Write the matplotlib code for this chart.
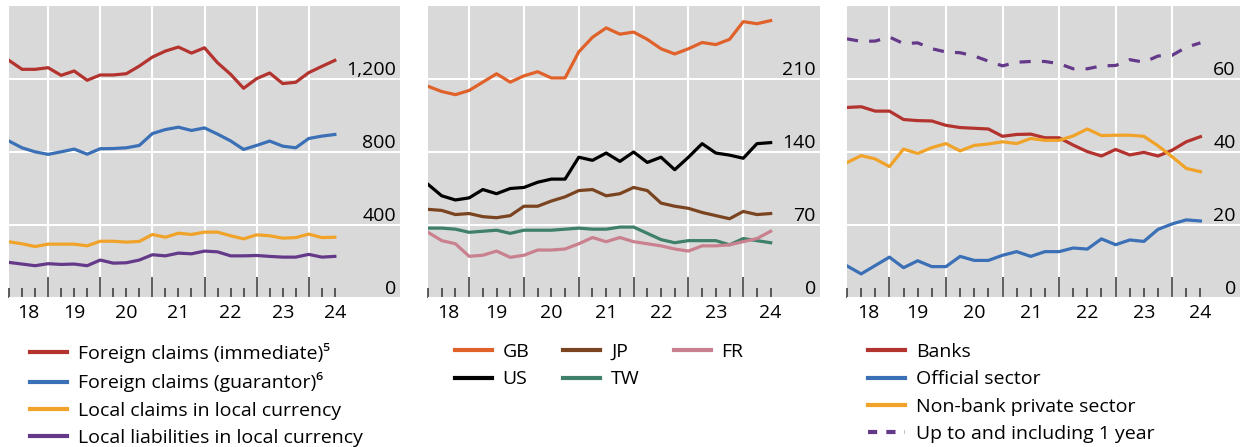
import matplotlib
matplotlib.use("Agg")
import matplotlib.pyplot as plt
import numpy as np
from matplotlib.lines import Line2D

plt.rcParams['font.family'] = ['Open Sans', 'DejaVu Sans']

# ---------------- data ----------------
quarters = [2018.25 + 0.25 * i for i in range(26)]

p1_immediate = [1302, 1253, 1253, 1262, 1220, 1244, 1193, 1222, 1222, 1229, 1271, 1320, 1353,
                1375, 1342, 1371, 1289, 1226, 1149, 1202, 1233, 1175, 1182, 1235, 1269, 1302]
p1_guarantor = [860, 823, 801, 787, 801, 816, 788, 818, 819, 823, 836, 901, 923,
                936, 918, 932, 898, 861, 814, 836, 860, 832, 823, 874, 887, 896]
p1_local_claims = [308, 297, 282, 295, 295, 295, 286, 311, 311, 306, 310, 348, 333,
                   355, 348, 361, 361, 341, 324, 346, 341, 328, 331, 350, 331, 333]
p1_local_liab = [195, 186, 177, 188, 184, 186, 177, 208, 191, 193, 208, 237, 231,
                 246, 242, 257, 253, 231, 231, 233, 228, 224, 224, 239, 224, 228]

p2_gb = [203, 198, 195, 199, 207, 215, 207, 213, 217, 211, 211, 236, 250,
         259, 253, 255, 248, 239, 234, 239, 245, 243, 248, 265, 263, 266]
p2_us = [109, 98, 94, 96, 104, 100, 105, 106, 111, 114, 114, 135, 132,
         139, 131, 140, 130, 135, 123, 135, 148, 139, 137, 134, 148, 149]
p2_jp = [85, 84, 80, 81, 78, 77, 79, 88, 88, 93, 97, 103, 104,
         98, 100, 106, 103, 91, 88, 86, 82, 79, 76, 83, 80, 81]
p2_tw = [67, 67, 66, 63, 64, 65, 62, 65, 65, 65, 66, 67, 66,
         66, 68, 68, 62, 56, 53, 55, 55, 55, 51, 57, 55, 53]
p2_fr = [63, 55, 52, 40, 41, 45, 39, 41, 46, 46, 47, 52, 58,
         54, 58, 54, 52, 50, 47, 45, 50, 50, 51, 54, 57, 64]

p3_banks = [52.2, 52.4, 51.2, 51.2, 48.9, 48.6, 48.5, 47.3, 46.7, 46.5, 46.3, 44.3, 44.8,
            44.9, 43.9, 43.9, 41.9, 40.1, 38.9, 40.7, 39.2, 39.9, 38.9, 40.5, 42.8, 44.2]
p3_official = [8.8, 6.6, 8.9, 11.2, 8.3, 10.2, 8.6, 8.6, 11.4, 10.3, 10.3, 11.7, 12.7,
               11.4, 12.7, 12.7, 13.7, 13.4, 16.2, 14.6, 15.9, 15.5, 18.8, 20.3, 21.4, 21.1]
p3_nonbank = [37.1, 39.0, 38.1, 36.0, 40.8, 39.6, 41.2, 42.3, 40.3, 41.8, 42.2, 42.8, 42.3,
              43.7, 43.2, 43.2, 44.4, 46.3, 44.5, 44.6, 44.6, 44.3, 41.7, 38.7, 35.5, 34.6]
p3_short = [71.0, 70.3, 70.4, 71.5, 69.7, 69.9, 68.3, 67.4, 67.2, 66.3, 64.9, 63.6, 64.6,
            64.8, 64.8, 64.2, 62.8, 62.8, 63.6, 63.7, 65.3, 64.6, 66.3, 66.5, 68.7, 69.9]

year_labels = ['18', '19', '20', '21', '22', '23', '24']
year_label_pos = [2018.625, 2019.5, 2020.5, 2021.5, 2022.5, 2023.5, 2024.5]
year_bounds = [2019, 2020, 2021, 2022, 2023, 2024]

RED = '#b3332f'
BLUE = '#3b6fb6'
YELLOW = '#f0a328'
PURPLE = '#65398a'
GB_C = '#e0622a'
US_C = '#000000'
JP_C = '#7a4420'
TW_C = '#3e8069'
FR_C = '#c9808f'
BG = '#d9d9d9'

W, H = 1240, 447
fig = plt.figure(figsize=(W / 100, H / 100), dpi=100)


def make_ax(x0, x1, y0, y1):
    return fig.add_axes([x0 / W, 1 - y1 / H, (x1 - x0) / W, (y1 - y0) / H])


def style(ax, xlim, ylim, yticks, ylabels):
    ax.set_facecolor(BG)
    for s in ax.spines.values():
        s.set_visible(False)
    ax.set_xlim(*xlim)
    ax.set_ylim(*ylim)
    ax.set_xticks(year_bounds)
    ax.set_xticks([q for q in quarters if q not in year_bounds], minor=True)
    ax.tick_params(axis='x', which='major', direction='in', length=15, width=1.1,
                   color='#333333', labelbottom=False)
    ax.tick_params(axis='x', which='minor', direction='in', length=7, width=1.1,
                   color='#333333', labelbottom=False)
    ax.yaxis.tick_right()
    ax.set_yticks(yticks)
    ax.set_yticklabels(ylabels)
    ax.tick_params(axis='y', length=0, pad=-3, labelsize=14, labelcolor='black')
    for lab in ax.get_yticklabels():
        lab.set_horizontalalignment('right')
        lab.set_verticalalignment('bottom')
    ax.grid(axis='y', color='white', lw=1.5)
    ax.grid(axis='x', which='major', color='white', lw=1.5)
    ax.set_axisbelow(True)
    sec = ax.secondary_xaxis('bottom')
    sec.set_xticks(year_label_pos, year_labels)
    sec.tick_params(length=0, pad=4.5, labelsize=14)
    for s in sec.spines.values():
        s.set_visible(False)


LW = 2.3

# Panel 1
ax1 = make_ax(9, 400, 6, 298)
ax1.plot(quarters, p1_immediate, color=RED, lw=LW)
ax1.plot(quarters, p1_guarantor, color=BLUE, lw=LW)
ax1.plot(quarters, p1_local_claims, color=YELLOW, lw=LW)
ax1.plot(quarters, p1_local_liab, color=PURPLE, lw=LW)
style(ax1, (2018.25, 2025.75), (0, 1600), [0, 400, 800, 1200], ['0', '400', '800', '1,200'])

# Panel 2
ax2 = make_ax(428, 820, 6, 298)
ax2.plot(quarters, p2_gb, color=GB_C, lw=LW)
ax2.plot(quarters, p2_us, color=US_C, lw=LW)
ax2.plot(quarters, p2_jp, color=JP_C, lw=LW)
ax2.plot(quarters, p2_tw, color=TW_C, lw=LW)
ax2.plot(quarters, p2_fr, color=FR_C, lw=LW)
style(ax2, (2018.25, 2025.4), (0, 280), [0, 70, 140, 210], ['0', '70', '140', '210'])

# Panel 3
ax3 = make_ax(847, 1240, 6, 298)
ax3.plot(quarters, p3_banks, color=RED, lw=LW)
ax3.plot(quarters, p3_official, color=BLUE, lw=LW)
ax3.plot(quarters, p3_nonbank, color=YELLOW, lw=LW)
ax3.plot(quarters, p3_short, color=PURPLE, lw=LW, dashes=(3.5, 3.5))
style(ax3, (2018.25, 2025.2), (0, 80), [0, 20, 40, 60], ['0', '20', '40', '60'])

# Legends
leg_kw = dict(loc='upper left', frameon=False, borderpad=0, borderaxespad=0, fontsize=14,
              handlelength=1.9, handletextpad=0.55, labelspacing=0.48)


def h(c, dashed=False):
    if dashed:
        return Line2D([], [], color=c, lw=3, dashes=(2.2, 2.2))
    return Line2D([], [], color=c, lw=3)


LEG_TOP = 343
fig.legend([h(RED), h(BLUE), h(YELLOW), h(PURPLE)],
           ['Foreign claims (immediate)\u2075', 'Foreign claims (guarantor)\u2076',
            'Local claims in local currency', 'Local liabilities in local currency'],
           bbox_to_anchor=(30 / W, 1 - LEG_TOP / H), **leg_kw)
fig.legend([h(GB_C), h(US_C), h(JP_C), h(TW_C), h(FR_C)],
           ['GB', 'US', 'JP', 'TW', 'FR'], ncol=3, columnspacing=1.75,
           bbox_to_anchor=(455 / W, 1 - LEG_TOP / H), **leg_kw)
fig.legend([h(RED), h(BLUE), h(YELLOW), h(PURPLE, True)],
           ['Banks', 'Official sector', 'Non-bank private sector', 'Up to and including 1 year'],
           bbox_to_anchor=(868 / W, 1 - LEG_TOP / H), **leg_kw)

fig.savefig('out.png', dpi=100)
